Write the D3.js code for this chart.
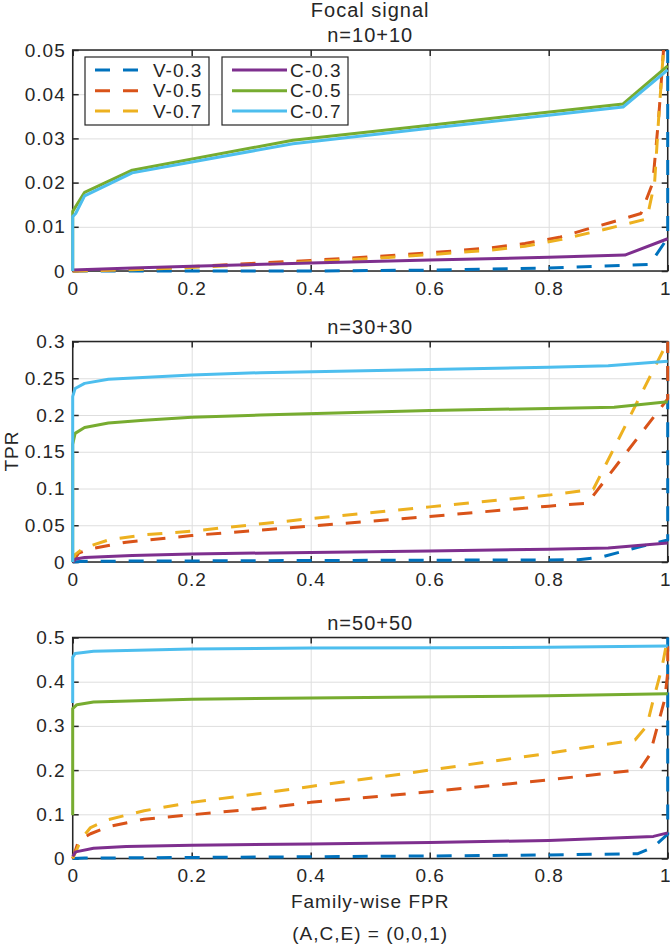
<!DOCTYPE html>
<html><head><meta charset="utf-8">
<script src="https://cdn.jsdelivr.net/npm/d3@7"></script>
<style>
body{margin:0;background:#fff}
svg{display:block}
text{font-family:"Liberation Sans",Arial,Helvetica,sans-serif;fill:#262626}
</style>
</head><body>
<svg id="c" width="670" height="945"></svg>
<script>
// ---------- data ----------
const seriesNames  = ["V-0.3","V-0.5","V-0.7","C-0.3","C-0.5","C-0.7"];
const seriesColors = ["#0072BD","#D95319","#EDB120","#7E2F8E","#77AC30","#4DBEEE"];
const seriesDashed = [true,true,true,false,false,false];

const xTickValues = [0,0.2,0.4,0.6,0.8,1];
const xTickLabels = ["0","0.2","0.4","0.6","0.8","1"];

const panelTitles = ["n=10+10","n=30+30","n=50+50"];
const yMaxes = [0.05,0.3,0.5];
const yTicks10 = [0,0.01,0.02,0.03,0.04,0.05];
const yLabels10 = ["0","0.01","0.02","0.03","0.04","0.05"];
const yTicks30 = [0,0.05,0.1,0.15,0.2,0.25,0.3];
const yLabels30 = ["0","0.05","0.1","0.15","0.2","0.25","0.3"];
const yTicks50 = [0,0.1,0.2,0.3,0.4,0.5];
const yLabels50 = ["0","0.1","0.2","0.3","0.4","0.5"];

// n=10+10
const v03_n10 = [[0,0],[0.4,0],[0.6,0.0002],[0.8,0.0007],[0.93,0.0013],[0.97,0.0015],[1,0.0075],[1,1]];
const v05_n10 = [[0,0],[0.1,0.0004],[0.2,0.001],[0.3,0.0017],[0.4,0.0024],[0.5,0.0032],[0.6,0.0041],[0.7,0.0052],[0.76,0.0062],[0.82,0.0077],[0.86,0.0093],[0.9,0.0108],[0.955,0.013],[0.975,0.02],[0.985,0.035],[0.993,0.05],[1,1]];
const v07_n10 = [[0,0],[0.1,0.0003],[0.2,0.0008],[0.3,0.0014],[0.4,0.0021],[0.5,0.0028],[0.6,0.0037],[0.7,0.0047],[0.76,0.0056],[0.82,0.0071],[0.9,0.0096],[0.965,0.0118],[0.978,0.02],[0.985,0.035],[0.993,0.05],[1,1]];
const c03_n10 = [[0,0.0002],[0.1,0.0007],[0.2,0.0011],[0.4,0.0018],[0.6,0.0025],[0.8,0.0031],[0.928,0.0036],[1,0.0073]];
const c05_n10 = [[0,0],[0,0.0135],[0.02,0.0178],[0.1,0.0228],[0.37,0.0296],[0.6,0.033],[0.925,0.0378],[1,0.0464]];
const c07_n10 = [[0,0],[0,0.0123],[0.005,0.013],[0.02,0.017],[0.1,0.0222],[0.37,0.0288],[0.6,0.0323],[0.925,0.0371],[1,0.0455]];

// n=30+30
const v03_n30 = [[0,0],[0.02,0.001],[0.4,0.002],[0.85,0.003],[0.89,0.007],[0.95,0.02],[1,0.03],[1,1]];
const v05_n30 = [[0,0],[0.01,0.012],[0.03,0.018],[0.09,0.027],[0.2,0.036],[0.4,0.049],[0.6,0.062],[0.8,0.076],[0.865,0.08],[1,0.222],[1,1]];
const v07_n30 = [[0,0],[0.004,0.01],[0.018,0.019],[0.06,0.03],[0.12,0.037],[0.2,0.042],[0.4,0.059],[0.6,0.075],[0.8,0.091],[0.875,0.099],[1,0.3],[1,1]];
const c03_n30 = [[0,0],[0.005,0.004],[0.02,0.006],[0.1,0.009],[0.2,0.011],[0.4,0.013],[0.6,0.015],[0.8,0.0175],[0.9,0.019],[1,0.026]];
const c05_n30 = [[0,0],[0,0.16],[0.004,0.175],[0.02,0.183],[0.06,0.189],[0.12,0.193],[0.2,0.197],[0.315,0.2],[0.6,0.206],[0.8,0.209],[0.91,0.2105],[1,0.218]];
const c07_n30 = [[0,0],[0,0.225],[0.004,0.236],[0.02,0.243],[0.06,0.2485],[0.2,0.2545],[0.315,0.2575],[0.6,0.262],[0.8,0.265],[0.9,0.267],[1,0.273]];

// n=50+50
const v03_n50 = [[0,0],[0.02,0.001],[0.4,0.004],[0.634,0.006],[0.8,0.008],[0.95,0.011],[0.976,0.026],[1,0.055],[1,1]];
const v05_n50 = [[0,0],[0.01,0.04],[0.03,0.056],[0.06,0.072],[0.12,0.089],[0.2,0.099],[0.315,0.113],[0.4,0.127],[0.6,0.151],[0.8,0.178],[0.953,0.201],[0.97,0.235],[0.985,0.31],[0.995,0.36],[1,0.42],[1,1]];
const v07_n50 = [[0,0],[0.015,0.045],[0.03,0.07],[0.06,0.088],[0.12,0.108],[0.2,0.127],[0.315,0.147],[0.4,0.163],[0.6,0.2],[0.8,0.238],[0.945,0.268],[0.965,0.3],[0.975,0.355],[0.99,0.43],[1,0.5],[1,1]];
const c03_n50 = [[0,0.005],[0.005,0.015],[0.035,0.023],[0.09,0.027],[0.2,0.03],[0.4,0.033],[0.6,0.036],[0.8,0.041],[0.976,0.05],[1,0.058]];
const c05_n50 = [[0,0.098],[0,0.339],[0.007,0.348],[0.035,0.354],[0.2,0.3605],[0.4,0.363],[0.634,0.366],[0.8,0.368],[1,0.373]];
const c07_n50 = [[0,0.352],[0,0.455],[0.004,0.464],[0.035,0.469],[0.2,0.474],[0.4,0.476],[0.634,0.477],[0.8,0.478],[1,0.481]];

const panelSeries = [
  [v03_n10,v05_n10,v07_n10,c03_n10,c05_n10,c07_n10],
  [v03_n30,v05_n30,v07_n30,c03_n30,c05_n30,c07_n30],
  [v03_n50,v05_n50,v07_n50,c03_n50,c05_n50,c07_n50]
];
const panelYTicks = [yTicks10,yTicks30,yTicks50];
const panelYLabels = [yLabels10,yLabels30,yLabels50];

// ---------- layout ----------
const svg = d3.select("#c");
const X0 = 72.7, X1 = 667.7;
const panelTop = [50, 341.5, 637.5];
const panelBot = [271, 562, 858.5];
const LS = 1; // letter spacing
const TICKFS = 19, TITLEFS = 20;
const DASH = "15,13";
const LW = 3;

const x = d3.scaleLinear().domain([0,1]).range([X0,X1]);

panelTitles.forEach((title,pi)=>{
  const y = d3.scaleLinear().domain([0,yMaxes[pi]]).range([panelBot[pi],panelTop[pi]]);
  const g = svg.append("g");
  const h = panelBot[pi]-panelTop[pi];
  const w = X1-X0;

  // grid
  g.append("g").attr("transform",`translate(0,${panelBot[pi]})`)
    .call(d3.axisBottom(x).tickValues(xTickValues).tickSize(-h).tickFormat(""))
    .call(s=>{s.select(".domain").remove(); s.selectAll("line").attr("stroke","#dedede").attr("stroke-width",1);});
  g.append("g").attr("transform",`translate(${X0},0)`)
    .call(d3.axisLeft(y).tickValues(panelYTicks[pi]).tickSize(-w).tickFormat(""))
    .call(s=>{s.select(".domain").remove(); s.selectAll("line").attr("stroke","#dedede").attr("stroke-width",1);});

  // box
  g.append("rect").attr("x",X0).attr("y",panelTop[pi]).attr("width",w).attr("height",h)
    .attr("fill","none").attr("stroke","#262626").attr("stroke-width",1.5);

  const styleAxis = s=>{
    s.select(".domain").remove();
    s.selectAll("line").attr("stroke","#262626").attr("stroke-width",1.5);
    s.selectAll("text").attr("font-size",TICKFS).attr("letter-spacing",LS).attr("fill","#262626")
      .attr("font-family",'"Liberation Sans",Arial,sans-serif');
  };
  // bottom axis
  g.append("g").attr("transform",`translate(0,${panelBot[pi]})`)
    .call(d3.axisBottom(x).tickValues(xTickValues).tickSizeInner(-6).tickSizeOuter(0).tickPadding(10.5)
      .tickFormat((d,i)=>xTickLabels[i]))
    .call(styleAxis)
    .call(s=>s.selectAll(".tick").filter(d=>d===1).select("text").attr("x",-2.5));
  // top axis
  g.append("g").attr("transform",`translate(0,${panelTop[pi]})`)
    .call(d3.axisTop(x).tickValues(xTickValues).tickSizeInner(-6).tickSizeOuter(0).tickFormat(""))
    .call(styleAxis);
  // left axis
  g.append("g").attr("transform",`translate(${X0},0)`)
    .call(d3.axisLeft(y).tickValues(panelYTicks[pi]).tickSizeInner(-6).tickSizeOuter(0).tickPadding(7)
      .tickFormat((d,i)=>panelYLabels[pi][i]))
    .call(styleAxis);
  // right axis
  g.append("g").attr("transform",`translate(${X1},0)`)
    .call(d3.axisRight(y).tickValues(panelYTicks[pi]).tickSizeInner(-6).tickSizeOuter(0).tickFormat(""))
    .call(styleAxis);

  // clip
  const cid = "clip"+pi;
  svg.append("clipPath").attr("id",cid).append("rect")
    .attr("x",X0-2.5).attr("y",panelTop[pi]).attr("width",w+5).attr("height",h+2.5);

  const line = d3.line().x(d=>x(d[0])).y(d=>y(d[1])).curve(d3.curveLinear);
  const dg = g.append("g").attr("clip-path",`url(#${cid})`);
  panelSeries[pi].forEach((data,si)=>{
    dg.append("path").attr("d",line(data)).attr("fill","none")
      .attr("stroke",seriesColors[si]).attr("stroke-width",LW)
      .attr("stroke-linejoin","round")
      .attr("stroke-dasharray",seriesDashed[si]?DASH:null);
  });

  // panel title
  g.append("text").attr("x",(X0+X1)/2).attr("y",panelTop[pi]-8)
    .attr("text-anchor","middle").attr("font-size",TITLEFS).attr("letter-spacing",LS).text(title);
});

// overall title
svg.append("text").attr("x",(X0+X1)/2).attr("y",17).attr("text-anchor","middle")
  .attr("font-size",TITLEFS).attr("letter-spacing",LS).text("Focal signal");

// axis labels
svg.append("text").attr("x",(X0+X1)/2).attr("y",908).attr("text-anchor","middle")
  .attr("font-size",TICKFS).attr("letter-spacing",LS).text("Family-wise FPR");
svg.append("text").attr("x",(X0+X1)/2).attr("y",940).attr("text-anchor","middle")
  .attr("font-size",TICKFS).attr("letter-spacing",LS).text("(A,C,E) = (0,0,1)");
svg.append("text").attr("transform","translate(17.5,451) rotate(-90)").attr("text-anchor","middle")
  .attr("font-size",TICKFS).attr("letter-spacing",LS).text("TPR");

// legend (two columns)
const legendBoxes = [{x:85,w:124,items:[0,1,2]},{x:222,w:126,items:[3,4,5]}];
const legTop = 57, legH = 68, rowY = [70,90.7,111];
const lg = svg.append("g");
legendBoxes.forEach(b=>{
  lg.append("rect").attr("x",b.x).attr("y",legTop).attr("width",b.w).attr("height",legH)
    .attr("fill","#fff").attr("stroke","#262626").attr("stroke-width",1.2);
  b.items.forEach((si,k)=>{
    lg.append("line").attr("x1",b.x+10).attr("x2",b.x+65).attr("y1",rowY[k]).attr("y2",rowY[k])
      .attr("stroke",seriesColors[si]).attr("stroke-width",LW)
      .attr("stroke-dasharray",seriesDashed[si]?DASH:null);
    lg.append("text").attr("x",b.x+68).attr("y",rowY[k]).attr("dy","0.35em")
      .attr("font-size",TICKFS).attr("letter-spacing",LS).text(seriesNames[si]);
  });
});
</script>
</body></html>
